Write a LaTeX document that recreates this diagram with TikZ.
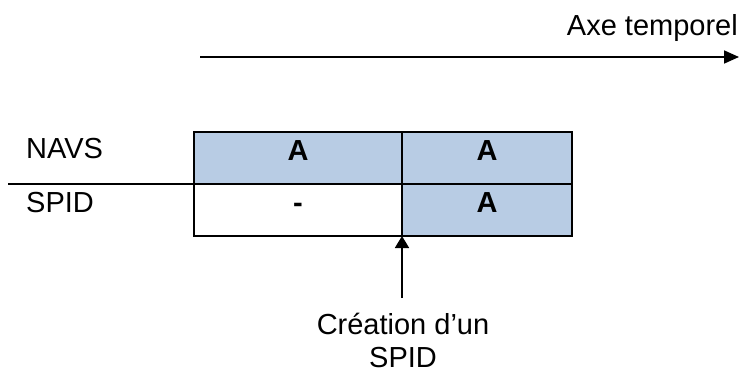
\documentclass[tikz,border=0pt]{standalone}
\usepackage{fontspec}
\setmainfont{Liberation Sans}
\usetikzlibrary{arrows.meta}
\definecolor{cellblue}{HTML}{B8CCE4}
\tikzset{
  cell/.style={draw=black, line width=1.8pt, minimum height=52pt, inner sep=0pt, outer sep=0pt},
  lbl/.style={inner sep=0pt, font=\fontsize{29}{32}\selectfont},
  bold/.style={lbl, font=\fontsize{29}{32}\selectfont\bfseries},
  conn/.style={line width=1.8pt},
}
\begin{document}
\begin{tikzpicture}[x=1pt,y=-1pt]
\useasboundingbox (0,0) rectangle (742,372);
% cells
\node[cell, fill=cellblue, minimum width=208pt] (c11) at (298,158) {};
\node[cell, fill=cellblue, minimum width=170pt] (c12) at (487,158) {};
\node[cell, fill=white, minimum width=208pt] (c21) at (298,210) {};
\node[cell, fill=cellblue, minimum width=170pt] (c22) at (487,210) {};
% cell texts
\node[bold, anchor=base] (t11) at (298,160) {A};
\node[bold, anchor=base] (t12) at (487,160) {A};
\node[bold, anchor=base] (t21) at (298,212) {-};
\node[bold, anchor=base] (t22) at (487,212) {A};
% row labels
\node[lbl, anchor=base west] (navs) at (26,158) {NAVS};
\node[lbl, anchor=base west] (spid) at (26,212) {SPID};
\coordinate (hl) at (8,184);
\draw[conn] (hl) -- (c11.south west);
% time axis
\node[lbl, anchor=base east] (axe) at (738,35) {Axe temporel};
\coordinate (a0) at (200,57);
\coordinate (a1) at (739,57);
\draw[conn, -{Triangle[length=15pt,width=13pt]}] (a0) -- (a1);
% creation arrow
\coordinate (v0) at (402,298);
\draw[conn, -{Triangle[length=12pt,width=14pt]}] (v0) -- (c21.south east);
\node[lbl, anchor=base] (cre) at (403,334) {Création d’un};
\node[lbl, anchor=base] (crs) at (403,367) {SPID};
\end{tikzpicture}
\end{document}
